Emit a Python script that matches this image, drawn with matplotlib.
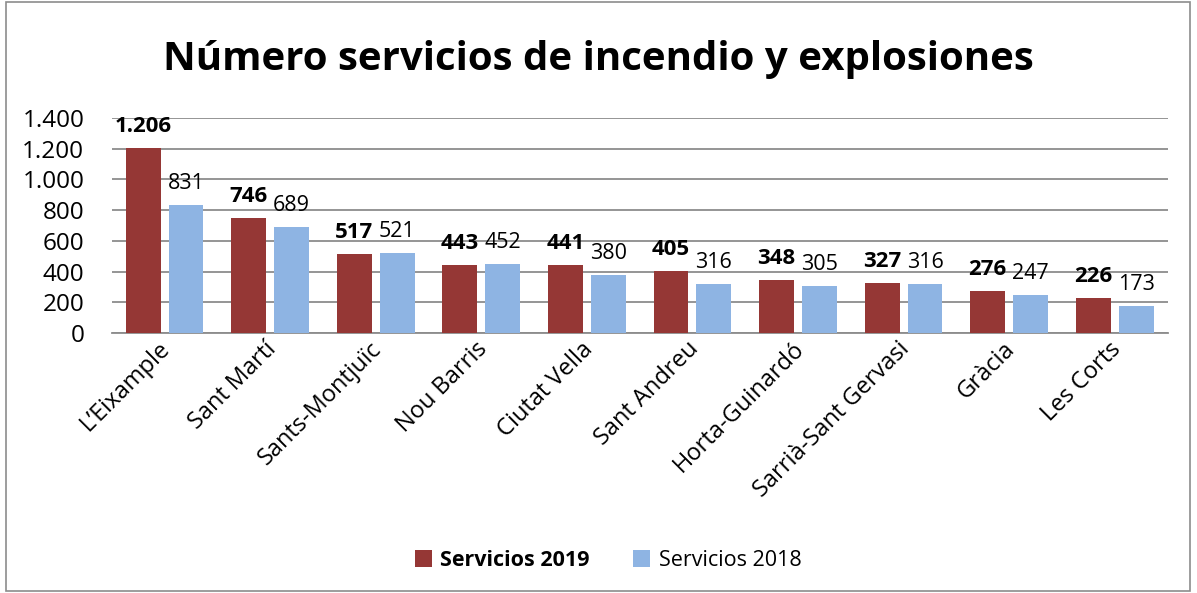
import numpy as np
from matplotlib import pyplot as plt
from matplotlib.patches import Rectangle

distritos = ["L\u2019Eixample", "Sant Martí", "Sants-Montjuïc", "Nou Barris", "Ciutat Vella",
             "Sant Andreu", "Horta-Guinardó", "Sarrià-Sant Gervasi", "Gràcia", "Les Corts"]
servicios_2019 = [1206, 746, 517, 443, 441, 405, 348, 327, 276, 226]
servicios_2018 = [831, 689, 521, 452, 380, 316, 305, 316, 247, 173]
yticks = [0, 200, 400, 600, 800, 1000, 1200, 1400]


def fmt(v):
	# separador de miles con punto
	return "{:,}".format(v).replace(",", ".")


plt.rcParams['font.family'] = ['Open Sans', 'DejaVu Sans']

fig = plt.figure(figsize=(11.97, 5.93), dpi=100)
fig.patches.append(Rectangle((0.005, 0.004), 0.989, 0.992, transform=fig.transFigure,
                             fill=False, edgecolor='#8c8c8c', linewidth=1.2))

ax = fig.add_axes([0.0936, 0.4384, 0.882, 0.3626])

x = np.arange(len(distritos))
w = 0.33
rojo = '#953735'
azul = '#8eb4e3'

b1 = ax.bar(x - 0.205, servicios_2019, w, color=rojo, label='Servicios 2019', zorder=3)
b2 = ax.bar(x + 0.2, servicios_2018, w, color=azul, label='Servicios 2018', zorder=3)

for xi, v in zip(x, servicios_2019):
	ax.text(xi - 0.205, v + 72, fmt(v), ha='center', va='bottom', fontsize=16,
	        fontweight='bold', zorder=4)
for xi, v in zip(x, servicios_2018):
	ax.text(xi + 0.2, v + 72, fmt(v), ha='center', va='bottom', fontsize=15.5, zorder=4)

ax.set_xlim(-0.5, len(distritos) - 0.5)
ax.set_ylim(0, 1400)
ax.set_yticks(yticks)
ax.set_yticklabels([fmt(t) for t in yticks], fontsize=17.5)
ax.set_xticks(x - 0.06)
ax.set_xticklabels(distritos, rotation=45, ha='right', rotation_mode='anchor', fontsize=17)
ax.tick_params(axis='y', length=0, pad=20)
ax.tick_params(axis='x', length=0, pad=3)

ax.grid(axis='y', color='#8c8c8c', linewidth=1.3, zorder=0)
for s in ['left', 'right', 'top']:
	ax.spines[s].set_visible(False)
ax.spines['bottom'].set_color('#8c8c8c')
ax.spines['bottom'].set_linewidth(1.3)

fig.text(0.5, 0.9, "Número servicios de incendio y explosiones", ha='center', va='center',
         fontsize=29, fontweight='bold')

leg = fig.legend(handles=[b1, b2], loc='center', bbox_to_anchor=(0.508, 0.055), ncol=2,
                 frameon=False, fontsize=15.5, handlelength=0.8, handleheight=0.8,
                 columnspacing=2.0, handletextpad=0.4)
leg.get_texts()[0].set_fontweight('bold')

fig.savefig('out.png', dpi=100)
